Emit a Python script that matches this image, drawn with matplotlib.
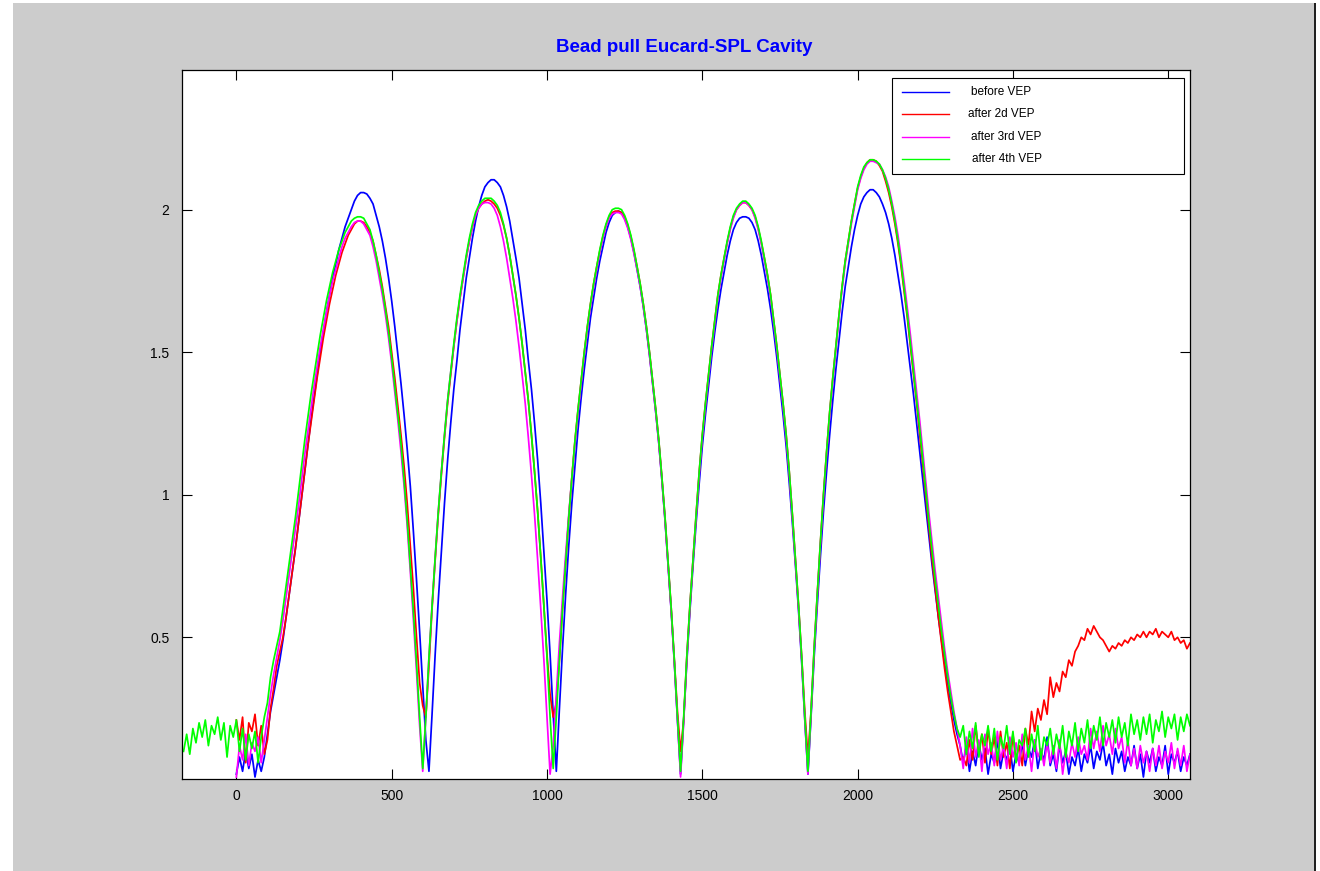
import numpy as np
import matplotlib
matplotlib.use("Agg")
import matplotlib.pyplot as plt
from matplotlib.patches import Rectangle
from matplotlib.lines import Line2D

plt.rcParams['font.family'] = ['Liberation Sans', 'DejaVu Sans']

# bead position samples (every 10 units), field amplitude
step = 10
start_4th = -170
start_others = 0

before_vep = [
    0.02, 0.08, 0.03, 0.10, 0.04, 0.09, 0.01, 0.07, 0.03, 0.08,
    0.16, 0.24, 0.30, 0.36, 0.42, 0.49, 0.57, 0.65, 0.73, 0.81,
    0.90, 0.99, 1.08, 1.17, 1.26, 1.34, 1.42, 1.50, 1.57, 1.64,
    1.70, 1.76, 1.81, 1.86, 1.90, 1.94, 1.97, 2.00, 2.03, 2.05,
    2.06, 2.06, 2.055, 2.04, 2.02, 1.98, 1.94, 1.89, 1.83, 1.76,
    1.68, 1.59, 1.49, 1.39, 1.28, 1.16, 1.03, 0.87, 0.70, 0.52,
    0.33, 0.14, 0.03, 0.23, 0.44, 0.63, 0.80, 0.97, 1.12, 1.25,
    1.37, 1.47, 1.58, 1.67, 1.76, 1.83, 1.90, 1.96, 2.01, 2.05,
    2.08, 2.095, 2.105, 2.105, 2.095, 2.08, 2.05, 2.01, 1.96, 1.895,
    1.83, 1.76, 1.67, 1.58, 1.47, 1.37, 1.25, 1.12, 0.97, 0.80,
    0.63, 0.44, 0.23, 0.03, 0.25, 0.46, 0.65, 0.82, 0.97, 1.10,
    1.23, 1.34, 1.44, 1.53, 1.62, 1.69, 1.76, 1.82, 1.87, 1.92,
    1.955, 1.98, 1.99, 1.995, 1.99, 1.97, 1.94, 1.90, 1.85, 1.79,
    1.73, 1.66, 1.58, 1.49, 1.39, 1.29, 1.18, 1.05, 0.91, 0.75,
    0.59, 0.41, 0.21, 0.02, 0.21, 0.41, 0.59, 0.75, 0.90, 1.04,
    1.17, 1.28, 1.38, 1.48, 1.57, 1.65, 1.72, 1.78, 1.84, 1.89,
    1.93, 1.955, 1.97, 1.975, 1.975, 1.97, 1.955, 1.93, 1.89, 1.84,
    1.78, 1.72, 1.65, 1.57, 1.48, 1.38, 1.28, 1.17, 1.04, 0.90,
    0.75, 0.59, 0.41, 0.21, 0.02, 0.22, 0.43, 0.61, 0.78, 0.94,
    1.08, 1.21, 1.33, 1.44, 1.54, 1.64, 1.73, 1.80, 1.87, 1.93,
    1.98, 2.02, 2.045, 2.06, 2.07, 2.07, 2.06, 2.045, 2.02, 1.99,
    1.95, 1.90, 1.84, 1.77, 1.70, 1.62, 1.53, 1.44, 1.35, 1.25,
    1.15, 1.05, 0.95, 0.85, 0.75, 0.66, 0.57, 0.49, 0.41, 0.34,
    0.27, 0.21, 0.16, 0.12, 0.06, 0.12, 0.03, 0.10, 0.05, 0.13,
    0.07, 0.11, 0.02, 0.09, 0.06, 0.14, 0.04, 0.10, 0.07, 0.12,
    0.03, 0.09, 0.06, 0.13, 0.05, 0.11, 0.08, 0.14, 0.04, 0.10,
    0.07, 0.15, 0.05, 0.09, 0.03, 0.12, 0.06, 0.10, 0.02, 0.08,
    0.05, 0.11, 0.03, 0.09, 0.06, 0.12, 0.04, 0.10, 0.07, 0.13,
    0.05, 0.09, 0.02, 0.11, 0.06, 0.10, 0.03, 0.08, 0.05, 0.12,
    0.04, 0.09, 0.01, 0.10, 0.06, 0.11, 0.03, 0.08, 0.05, 0.12,
    0.02, 0.09, 0.06, 0.10, 0.03, 0.08, 0.05, 0.09,
]

after_2d_vep = [
    0.21, 0.14, 0.22, 0.06, 0.20, 0.17, 0.23, 0.12, 0.19, 0.09,
    0.14, 0.25, 0.32, 0.40, 0.45, 0.50, 0.57, 0.65, 0.73, 0.81,
    0.90, 0.99, 1.08, 1.17, 1.25, 1.33, 1.41, 1.48, 1.55, 1.61,
    1.67, 1.72, 1.77, 1.81, 1.85, 1.88, 1.91, 1.93, 1.95, 1.96,
    1.96, 1.955, 1.94, 1.92, 1.89, 1.84, 1.79, 1.73, 1.66, 1.59,
    1.50, 1.41, 1.31, 1.21, 1.10, 0.97, 0.82, 0.67, 0.50, 0.34,
    0.26, 0.22, 0.40, 0.60, 0.77, 0.93, 1.07, 1.20, 1.32, 1.42,
    1.52, 1.61, 1.69, 1.76, 1.83, 1.89, 1.94, 1.98, 2.005, 2.02,
    2.03, 2.035, 2.03, 2.02, 2.005, 1.98, 1.945, 1.90, 1.84, 1.77,
    1.70, 1.62, 1.53, 1.43, 1.33, 1.21, 1.08, 0.94, 0.78, 0.61,
    0.44, 0.30, 0.22, 0.27, 0.42, 0.60, 0.76, 0.92, 1.06, 1.19,
    1.30, 1.40, 1.50, 1.59, 1.67, 1.74, 1.80, 1.855, 1.905, 1.945,
    1.975, 1.99, 1.995, 1.995, 1.99, 1.975, 1.945, 1.905, 1.855, 1.80,
    1.74, 1.67, 1.59, 1.50, 1.40, 1.30, 1.19, 1.06, 0.92, 0.76,
    0.60, 0.42, 0.24, 0.10, 0.21, 0.43, 0.61, 0.77, 0.93, 1.08,
    1.21, 1.32, 1.42, 1.52, 1.61, 1.70, 1.77, 1.83, 1.885, 1.935,
    1.975, 2.00, 2.015, 2.025, 2.025, 2.015, 2.00, 1.975, 1.935, 1.885,
    1.83, 1.77, 1.70, 1.61, 1.52, 1.42, 1.32, 1.21, 1.08, 0.93,
    0.77, 0.61, 0.43, 0.24, 0.08, 0.24, 0.46, 0.65, 0.83, 1.00,
    1.15, 1.29, 1.41, 1.52, 1.63, 1.73, 1.82, 1.89, 1.96, 2.02,
    2.075, 2.115, 2.145, 2.165, 2.175, 2.175, 2.17, 2.155, 2.135, 2.10,
    2.06, 2.01, 1.95, 1.88, 1.80, 1.71, 1.62, 1.52, 1.42, 1.32,
    1.21, 1.10, 0.99, 0.88, 0.77, 0.67, 0.57, 0.48, 0.39, 0.31,
    0.24, 0.17, 0.12, 0.07, 0.08, 0.05, 0.14, 0.07, 0.19, 0.10,
    0.16, 0.06, 0.18, 0.09, 0.15, 0.05, 0.17, 0.08, 0.13, 0.04,
    0.16, 0.07, 0.12, 0.05, 0.18, 0.12, 0.24, 0.17, 0.25, 0.21,
    0.28, 0.23, 0.36, 0.29, 0.34, 0.31, 0.38, 0.36, 0.42, 0.40,
    0.45, 0.47, 0.50, 0.49, 0.53, 0.51, 0.54, 0.52, 0.50, 0.49,
    0.47, 0.45, 0.47, 0.46, 0.48, 0.47, 0.49, 0.48, 0.50, 0.49,
    0.51, 0.50, 0.52, 0.50, 0.52, 0.51, 0.53, 0.50, 0.52, 0.51,
    0.50, 0.52, 0.49, 0.50, 0.48, 0.49, 0.46, 0.48,
]

after_3rd_vep = [
    0.01, 0.12, 0.07, 0.16, 0.05, 0.13, 0.10, 0.15, 0.06, 0.14,
    0.22, 0.30, 0.37, 0.43, 0.49, 0.56, 0.64, 0.72, 0.80, 0.88,
    0.96, 1.05, 1.14, 1.22, 1.30, 1.38, 1.45, 1.52, 1.58, 1.64,
    1.70, 1.75, 1.79, 1.83, 1.87, 1.90, 1.92, 1.94, 1.955, 1.96,
    1.96, 1.95, 1.93, 1.91, 1.87, 1.82, 1.76, 1.70, 1.63, 1.55,
    1.46, 1.36, 1.26, 1.15, 1.03, 0.89, 0.73, 0.56, 0.38, 0.19,
    0.03, 0.22, 0.43, 0.61, 0.78, 0.94, 1.08, 1.21, 1.33, 1.43,
    1.52, 1.61, 1.69, 1.76, 1.83, 1.89, 1.94, 1.98, 2.005, 2.02,
    2.025, 2.025, 2.02, 2.005, 1.98, 1.94, 1.89, 1.83, 1.76, 1.69,
    1.61, 1.52, 1.42, 1.32, 1.20, 1.07, 0.93, 0.77, 0.60, 0.42,
    0.22, 0.02, 0.12, 0.30, 0.48, 0.64, 0.79, 0.93, 1.06, 1.18,
    1.29, 1.39, 1.49, 1.58, 1.66, 1.73, 1.79, 1.85, 1.90, 1.94,
    1.97, 1.985, 1.99, 1.99, 1.985, 1.965, 1.935, 1.895, 1.845, 1.79,
    1.73, 1.66, 1.58, 1.49, 1.39, 1.29, 1.18, 1.05, 0.91, 0.75,
    0.59, 0.41, 0.21, 0.01, 0.20, 0.42, 0.60, 0.77, 0.92, 1.07,
    1.20, 1.31, 1.41, 1.51, 1.60, 1.69, 1.76, 1.82, 1.88, 1.93,
    1.97, 2.00, 2.015, 2.025, 2.025, 2.015, 2.00, 1.97, 1.93, 1.88,
    1.82, 1.76, 1.69, 1.60, 1.51, 1.41, 1.31, 1.20, 1.07, 0.92,
    0.76, 0.60, 0.42, 0.21, 0.02, 0.23, 0.45, 0.64, 0.82, 0.99,
    1.14, 1.28, 1.40, 1.51, 1.62, 1.72, 1.81, 1.88, 1.95, 2.01,
    2.07, 2.11, 2.14, 2.16, 2.17, 2.17, 2.165, 2.16, 2.14, 2.115,
    2.08, 2.03, 1.975, 1.91, 1.83, 1.745, 1.655, 1.56, 1.46, 1.36,
    1.26, 1.15, 1.04, 0.93, 0.83, 0.73, 0.64, 0.55, 0.46, 0.38,
    0.31, 0.24, 0.18, 0.12, 0.04, 0.15, 0.06, 0.18, 0.08, 0.14,
    0.03, 0.16, 0.09, 0.13, 0.05, 0.17, 0.07, 0.12, 0.04, 0.15,
    0.08, 0.13, 0.05, 0.16, 0.07, 0.12, 0.03, 0.14, 0.08, 0.11,
    0.05, 0.13, 0.06, 0.12, 0.04, 0.14, 0.02, 0.10, 0.06, 0.13,
    0.08, 0.15, 0.09, 0.12, 0.07, 0.18, 0.11, 0.17, 0.10, 0.19,
    0.12, 0.16, 0.09, 0.18, 0.11, 0.15, 0.06, 0.14, 0.05, 0.11,
    0.04, 0.12, 0.06, 0.10, 0.03, 0.11, 0.05, 0.12, 0.04, 0.10,
    0.06, 0.13, 0.04, 0.11, 0.05, 0.12, 0.03, 0.09,
]

after_4th_vep = [
    0.10, 0.16, 0.09, 0.18, 0.13, 0.20, 0.15, 0.21, 0.12, 0.19,
    0.16, 0.22, 0.14, 0.20, 0.08, 0.19, 0.15, 0.21, 0.10, 0.18,
    0.07, 0.16, 0.11, 0.17, 0.06, 0.15, 0.22, 0.27, 0.36, 0.42,
    0.47, 0.52, 0.60, 0.68, 0.76, 0.84, 0.92, 1.01, 1.10, 1.19,
    1.27, 1.35, 1.42, 1.49, 1.56, 1.62, 1.68, 1.73, 1.78, 1.82,
    1.86, 1.89, 1.92, 1.94, 1.96, 1.97, 1.975, 1.975, 1.97, 1.95,
    1.93, 1.89, 1.84, 1.78, 1.72, 1.65, 1.57, 1.48, 1.38, 1.28,
    1.18, 1.05, 0.91, 0.75, 0.59, 0.41, 0.22, 0.04, 0.22, 0.43,
    0.61, 0.78, 0.94, 1.08, 1.21, 1.33, 1.43, 1.53, 1.62, 1.70,
    1.77, 1.84, 1.90, 1.95, 1.99, 2.015, 2.03, 2.04, 2.04, 2.04,
    2.03, 2.015, 1.99, 1.95, 1.90, 1.84, 1.77, 1.70, 1.62, 1.53,
    1.43, 1.33, 1.21, 1.08, 0.94, 0.78, 0.61, 0.43, 0.22, 0.04,
    0.22, 0.42, 0.60, 0.76, 0.92, 1.06, 1.19, 1.30, 1.40, 1.50,
    1.59, 1.67, 1.74, 1.80, 1.86, 1.91, 1.95, 1.98, 2.00, 2.005,
    2.005, 2.00, 1.98, 1.95, 1.91, 1.86, 1.80, 1.74, 1.67, 1.59,
    1.50, 1.40, 1.30, 1.19, 1.06, 0.92, 0.76, 0.60, 0.42, 0.22,
    0.03, 0.22, 0.43, 0.61, 0.77, 0.93, 1.08, 1.21, 1.32, 1.42,
    1.52, 1.61, 1.70, 1.77, 1.83, 1.89, 1.94, 1.98, 2.005, 2.02,
    2.03, 2.03, 2.02, 2.005, 1.98, 1.94, 1.89, 1.83, 1.77, 1.70,
    1.61, 1.52, 1.42, 1.32, 1.21, 1.08, 0.93, 0.77, 0.61, 0.43,
    0.22, 0.03, 0.24, 0.46, 0.65, 0.83, 1.00, 1.15, 1.29, 1.41,
    1.52, 1.63, 1.73, 1.82, 1.89, 1.96, 2.02, 2.08, 2.12, 2.15,
    2.165, 2.175, 2.175, 2.17, 2.16, 2.14, 2.11, 2.07, 2.02, 1.96,
    1.89, 1.81, 1.72, 1.63, 1.53, 1.43, 1.33, 1.23, 1.12, 1.01,
    0.90, 0.80, 0.70, 0.61, 0.52, 0.44, 0.36, 0.29, 0.23, 0.18,
    0.15, 0.19, 0.09, 0.17, 0.11, 0.20, 0.08, 0.16, 0.12, 0.19,
    0.10, 0.18, 0.07, 0.15, 0.11, 0.19, 0.09, 0.17, 0.06, 0.14,
    0.12, 0.18, 0.08, 0.16, 0.10, 0.19, 0.07, 0.15, 0.12, 0.18,
    0.09, 0.16, 0.11, 0.19, 0.08, 0.17, 0.12, 0.20, 0.10, 0.18,
    0.13, 0.21, 0.11, 0.19, 0.14, 0.22, 0.12, 0.20, 0.15, 0.21,
    0.13, 0.22, 0.15, 0.20, 0.12, 0.23, 0.16, 0.21, 0.14, 0.22,
    0.16, 0.23, 0.13, 0.21, 0.17, 0.24, 0.15, 0.22, 0.18, 0.23,
    0.14, 0.22, 0.17, 0.23, 0.19,
]

series_labels = ['before VEP', 'after 2d VEP', 'after 3rd VEP', 'after 4th VEP']
series_values = [before_vep, after_2d_vep, after_3rd_vep, after_4th_vep]
series_starts = [start_others, start_others, start_others, start_4th]
series_colors = [(0, 0, 1), (1, 0, 0), (1, 0, 1), (0, 1, 0)]

x_ticks = [0, 500, 1000, 1500, 2000, 2500, 3000]
y_ticks = [0.5, 1, 1.5, 2]
y_tick_labels = ['0.5', '1', '1.5', '2']

W, H = 1320, 871
fig = plt.figure(figsize=(W / 100, H / 100), dpi=100, facecolor='white')

# grey window background and the dark border on its right
fig.add_artist(Rectangle((13 / W, 0), (1314 - 13) / W, (H - 3) / H, transform=fig.transFigure,
                         facecolor='#cccccc', edgecolor='none', zorder=-10))
fig.add_artist(Rectangle((1314 / W, 0), 2 / W, (H - 3) / H, transform=fig.transFigure,
                         facecolor='#202020', edgecolor='none', zorder=-9))

ax = fig.add_axes([182 / W, 1 - 779 / H, (1190 - 182) / W, (779 - 70) / H])
ax.set_facecolor('white')

for values, start, color in zip(series_values, series_starts, series_colors):
    pos = start + step * np.arange(len(values))
    ax.plot(pos, values, color=color, lw=1.25)

ax.set_xlim(-175, 3070)
ax.set_ylim(0.003, 2.49)
ax.set_xticks(x_ticks)
ax.set_yticks(y_ticks)
ax.set_yticklabels(y_tick_labels)
ax.tick_params(direction='in', length=7, width=0.8, top=True, right=True,
               labelsize=10, colors='black')
ax.tick_params(axis='y', pad=9)
ax.tick_params(axis='x', pad=7)
for sp in ax.spines.values():
    sp.set_linewidth(0.9)

fig.text(684 / W, 1 - 48 / H, 'Bead pull Eucard-SPL Cavity', ha='center', va='center',
         color=(0, 0, 1), fontweight='bold', fontsize=13.5)

# legend box drawn by hand to match the MATLAB layout
fig.add_artist(Rectangle((892 / W, 1 - 174 / H), (1184 - 892) / W, (174 - 78) / H,
                         transform=fig.transFigure, facecolor='white', edgecolor='black',
                         lw=0.8, zorder=5))
label_x = [971, 968, 971, 972]
for i, (label, color) in enumerate(zip(series_labels, series_colors)):
    yy = 1 - (92 + i * 22.4) / H
    fig.add_artist(Line2D([902 / W, 949 / W], [yy, yy], transform=fig.transFigure,
                          color=color, lw=1.0, zorder=6))
    fig.text(label_x[i] / W, yy, label, va='center', ha='left', fontsize=8.5, zorder=6)

fig.savefig('out.png', dpi=100, facecolor=fig.get_facecolor())
